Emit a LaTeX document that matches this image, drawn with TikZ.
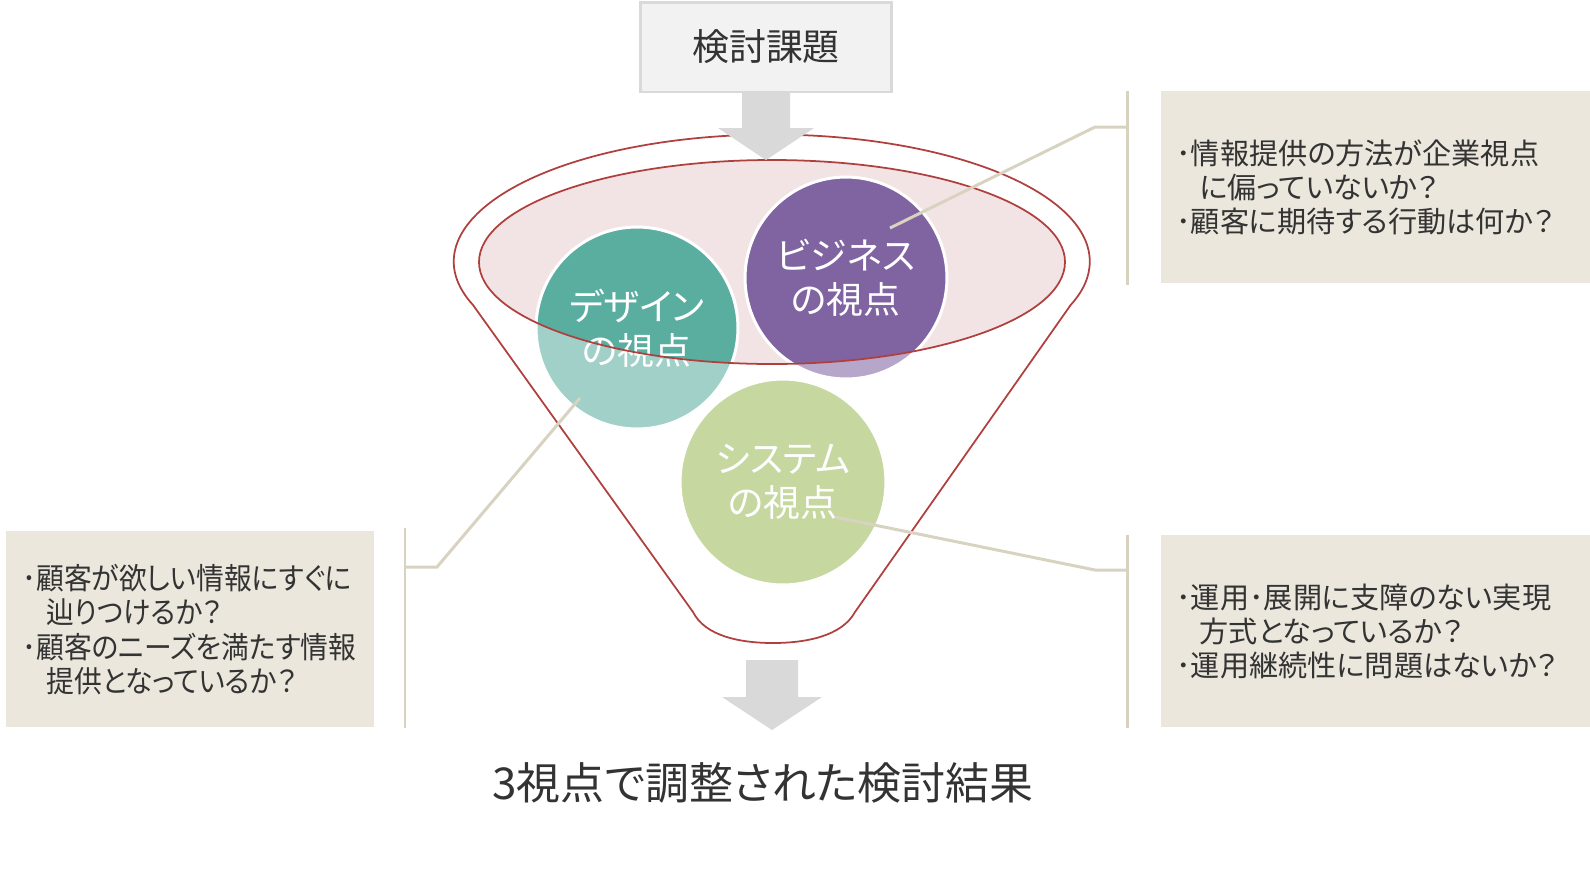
\documentclass[tikz,border=0pt]{standalone}
\usepackage{fontspec}
\setmainfont{Noto Sans CJK JP}[RawFeature=+palt]
\newfontfamily\narrowjp{Noto Sans CJK JP}[RawFeature=+palt,FakeStretch=0.93]
\definecolor{funnelred}{RGB}{176,64,62}
\definecolor{rimpink}{RGB}{242,228,228}
\definecolor{designteal}{RGB}{90,174,160}
\definecolor{bizpurple}{RGB}{128,100,162}
\definecolor{sysgreen}{RGB}{155,187,89}
\definecolor{notebeige}{RGB}{235,231,221}
\definecolor{linetan}{RGB}{216,211,192}
\definecolor{arrowgray}{RGB}{217,217,217}
\definecolor{headfill}{RGB}{242,242,242}
\definecolor{textdark}{RGB}{51,51,51}

\begin{document}
\begin{tikzpicture}[x=0.02cm,y=-0.02cm,
  view/.style={circle,draw=white,line width=1.7pt,inner sep=0pt,minimum size=4.04cm,text=white,align=center,font=\fontsize{21}{25}\selectfont},
  note/.style={fill=notebeige,anchor=north west,minimum width=8.58cm,minimum height=3.84cm,inner xsep=0.3cm,text width=7.98cm,align=left,text=textdark,font=\fontsize{16.6}{19.4}\selectfont},
  bracket/.style={linetan,line width=1.7pt},
  funnel/.style={funnelred,line width=1pt},
  blockarrow/.style={fill=arrowgray}]
\useasboundingbox (0,0) rectangle (1590,870);

\node[draw=arrowgray,line width=1.7pt,fill=headfill,minimum width=5.04cm,minimum height=1.8cm,text=textdark,font=\fontsize{21}{25}\selectfont] (header) at (766,47) {検討課題};

\fill[rimpink] (772,262) ellipse[x radius=293,y radius=102];
\node[view,fill=designteal] (design) at (637,328) {デザイン\\の視点};
\node[view,fill=bizpurple] (business) at (846,278) {ビジネス\\の視点};
\node[view,fill=sysgreen,minimum size=4.12cm] (system) at (783,482) {システム\\の視点};
\begin{scope}
\clip (design.center) circle[radius=102] (business.center) circle[radius=102] (system.center) circle[radius=104];
\fill[white,opacity=0.43,even odd rule] (430,120) rectangle (1110,660) (772,262) ellipse[x radius=293,y radius=102];
\end{scope}
\draw[funnel] (772,262) ellipse[x radius=293,y radius=102];
\draw[funnel] (473,305) arc[start angle=160,end angle=380,x radius=318,y radius=127] -- (855,612) .. controls (842,636) and (806,643) .. (773,643) .. controls (740,643) and (705,636) .. (693,612) -- cycle;

\fill[blockarrow] (742,92) -- (790,92) -- (790,128) -- (814,128) -- (766,160) -- (718,128) -- (742,128) -- cycle;
\fill[blockarrow] (746,660) -- (798,660) -- (798,697) -- (822,697) -- (772,730) -- (722,697) -- (746,697) -- cycle;

\node[note] (noteBiz) at (1161,91) {･情報提供の方法が企業視点\\\hspace*{.8em}に偏っていないか？\\･顧客に期待する行動は何か？};
\node[note,minimum width=7.36cm,minimum height=3.92cm,inner xsep=0.32cm,text width=6.72cm,font=\narrowjp\fontsize{17}{19.6}\selectfont] (noteDesign) at (6,531) {･顧客が欲しい情報にすぐに\\\hspace*{.8em}辿りつけるか？\\･顧客のニーズを満たす情報\\\hspace*{.8em}提供となっているか？};
\node[note] (noteSys) at (1161,535) {･運用･展開に支障のない実現\\\hspace*{.8em}方式となっているか？\\･運用継続性に問題はないか？};

\coordinate (bizTop) at (1127,91);
\coordinate (bizBot) at (1127,285);
\coordinate (bizKnee) at (1127,127);
\coordinate (bizPin) at (890,228);
\coordinate (sysTop) at (1127,535);
\coordinate (sysBot) at (1127,728);
\coordinate (sysKnee) at (1127,570);
\coordinate (sysPin) at (835,517);
\coordinate (desTop) at (405,528);
\coordinate (desBot) at (405,728);
\coordinate (desKnee) at (405,567);
\coordinate (desPin) at (580,398);
\draw[bracket] (bizTop) -- (bizBot);
\draw[bracket] (bizPin) -- (1095,127) -- (bizKnee);
\draw[bracket] (sysTop) -- (sysBot);
\draw[bracket] (sysPin) -- (1095,570) -- (sysKnee);
\draw[bracket] (desTop) -- (desBot);
\draw[bracket] (desPin) -- (437,567) -- (desKnee);

\node[text=textdark,font=\fontsize{25}{30}\selectfont] (result) at (763,783) {3視点で調整された検討結果};
\end{tikzpicture}
\end{document}
